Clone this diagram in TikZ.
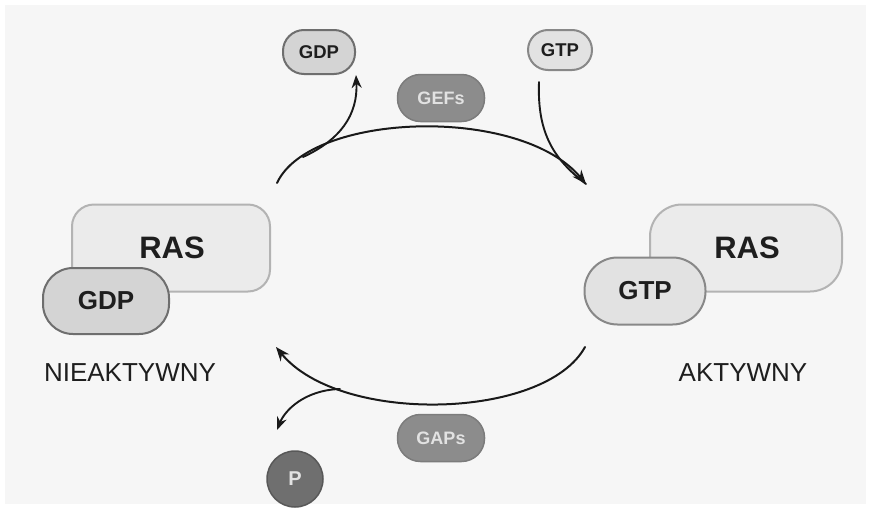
\documentclass[tikz,border=0pt]{standalone}
\usepackage{fontspec}
\setmainfont{Liberation Sans}
\usetikzlibrary{arrows.meta}
\definecolor{bg}{HTML}{F6F6F6}
\definecolor{rasfill}{HTML}{EBEBEB}
\definecolor{rasline}{HTML}{B3B3B3}
\definecolor{gdpfill}{HTML}{D4D4D4}
\definecolor{gdpline}{HTML}{6E6E6E}
\definecolor{gtpfill}{HTML}{E2E2E2}
\definecolor{gtpline}{HTML}{888888}
\definecolor{enzfill}{HTML}{8C8C8C}
\definecolor{enzline}{HTML}{7C7C7C}
\definecolor{enztext}{HTML}{E2E2E2}
\definecolor{pfill}{HTML}{6F6F6F}
\definecolor{pline}{HTML}{585858}
\definecolor{txt}{HTML}{1E1E1E}
\tikzset{
  pill/.style={draw, line width=2pt, rounded corners=#1, inner sep=0pt, text=txt},
  rasbox/.style={draw=rasline, fill=rasfill, line width=2pt, inner sep=0pt, text=txt,
     font=\fontsize{31}{31}\selectfont\bfseries},
  big/.style={font=\fontsize{26}{26}\selectfont\bfseries},
  small/.style={font=\fontsize{18.5}{18.5}\selectfont\bfseries},
  enz/.style={draw=enzline, fill=enzfill, line width=1.5pt, rounded corners=23pt,
     minimum width=87pt, minimum height=47pt, inner sep=0pt, text=enztext,
     font=\fontsize{18}{18}\selectfont\bfseries},
  state/.style={text=txt, font=\fontsize{26}{26}\selectfont, inner sep=0pt},
  conn/.style={line width=2pt, draw=black!90, line cap=round,
     -{Stealth[length=14pt,width=11pt]}},
  branch/.style={line width=1.9pt, draw=black!90, line cap=round,
     -{Stealth[length=13pt,width=10pt]}}
}
\begin{document}
\begin{tikzpicture}[x=1pt,y=-1pt]
\useasboundingbox (0,0) rectangle (871,509);
\fill[white] (0,0) rectangle (871,509);
\fill[bg] (5,5) rectangle (866,504);

% left inactive RAS
\node[rasbox, rounded corners=22pt, minimum width=198pt, minimum height=87pt] (rasL) at (171,248) {};
\node[txt, font=\fontsize{31}{31}\selectfont\bfseries, text=txt] (rasLt) at (172,248) {RAS};
\node[pill=30pt, draw=gdpline, fill=gdpfill, big, minimum width=126pt, minimum height=66pt] (gdpL) at (106,301) {GDP};
\node[state] (inact) at (130,373) {NIEAKTYWNY};

% right active RAS
\node[rasbox, rounded corners=32pt, minimum width=192pt, minimum height=87pt] (rasR) at (746,248) {};
\node[txt, font=\fontsize{31}{31}\selectfont\bfseries, text=txt] (rasRt) at (747,248) {RAS};
\node[pill=33pt, draw=gtpline, fill=gtpfill, big, minimum width=121pt, minimum height=67pt] (gtpR) at (645,291) {GTP};
\node[state] (act) at (743,373) {AKTYWNY};

% top small nucleotides
\node[pill=21pt, draw=gdpline, fill=gdpfill, small, minimum width=72pt, minimum height=44pt] (gdpT) at (319,52) {GDP};
\node[pill=20pt, draw=gtpline, fill=gtpfill, small, minimum width=64pt, minimum height=40pt] (gtpT) at (560,50) {GTP};

% enzymes
\node[enz] (gef) at (441,98) {GEFs};
\node[enz] (gap) at (441,438) {GAPs};

% phosphate
\node[circle, draw=pline, fill=pfill, line width=1.5pt, minimum size=56pt, inner sep=0pt,
      text=enztext, font=\fontsize{20}{20}\selectfont\bfseries] (pi) at (295,479) {P};

% connector coordinates
\coordinate (topS) at (277,183);
\coordinate (topE) at (586,184);
\coordinate (topB) at (303,157);
\coordinate (gtpS) at (539,82);
\coordinate (botS) at (585,347);
\coordinate (botE) at (276,347);
\coordinate (botB) at (340,389);

% top arc: inactive -> active
\draw[conn] (topS) .. controls (310,112) and (520,105) .. (topE);
% GDP released
\draw[branch] (topB) .. controls (340,140) and (358,115) .. (gdpT.south east);
% GTP bound
\draw[line width=1.9pt, draw=black!90, line cap=round] (gtpS) .. controls (537,135) and (555,160) .. (topE);

% bottom arc: active -> inactive
\draw[conn] (botS) .. controls (545,420) and (340,425) .. (botE);
% phosphate released
\draw[branch] (botB) .. controls (305,390) and (285,410) .. (277,430);
\end{tikzpicture}
\end{document}
